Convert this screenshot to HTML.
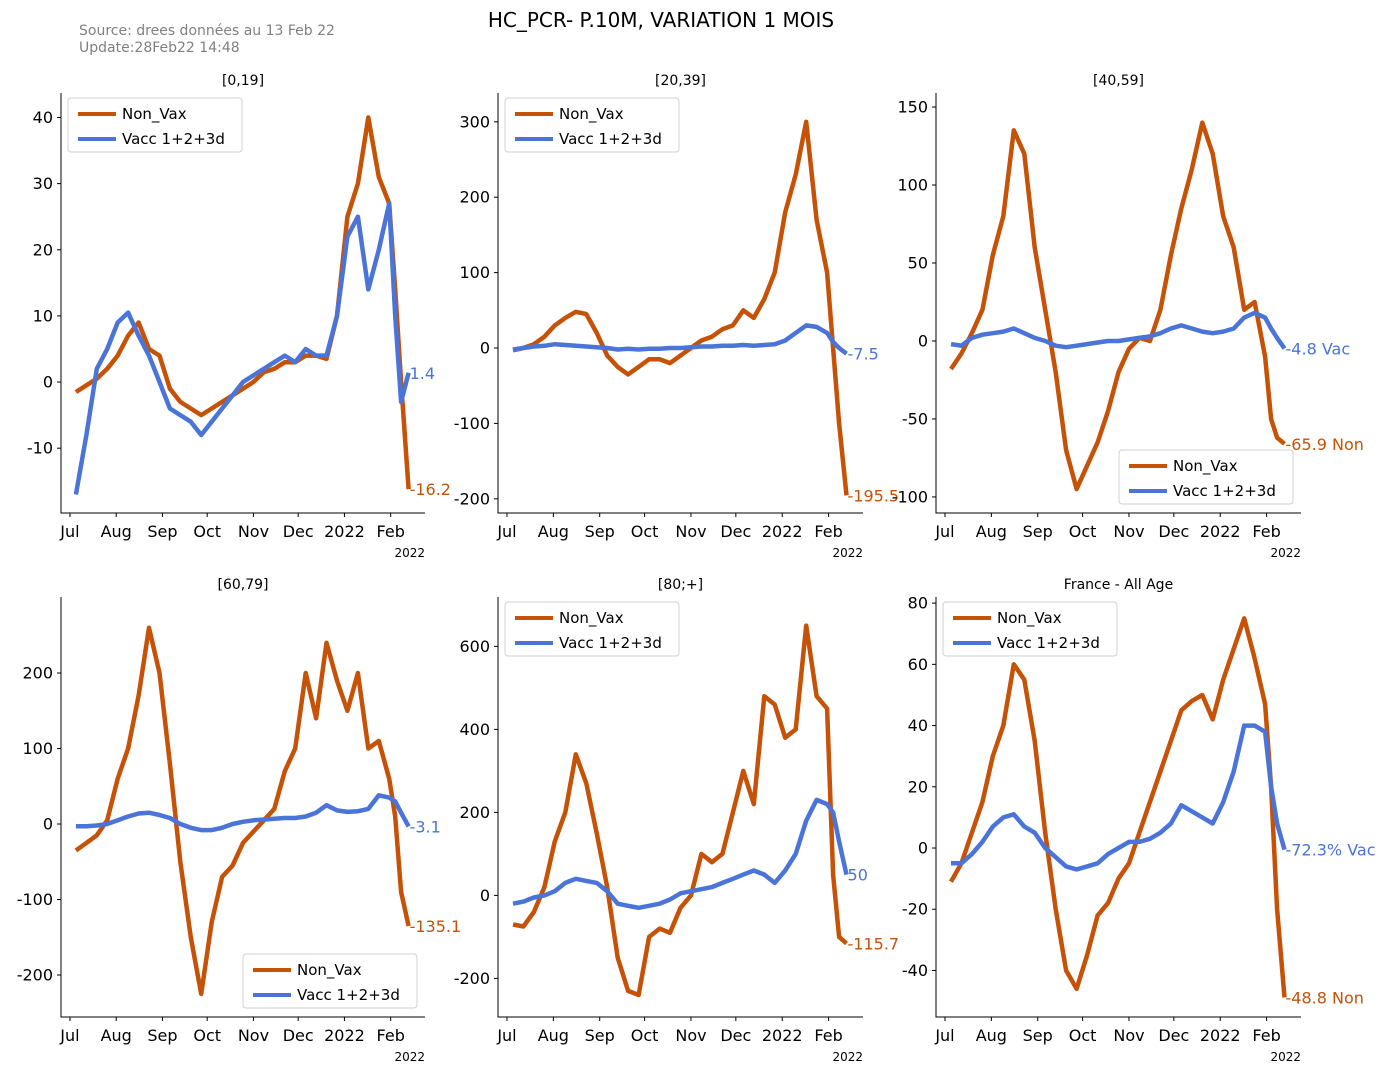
<!DOCTYPE html>
<html><head><meta charset="utf-8">
<style>
body{margin:0;background:#fff;}
svg{display:block;font-family:"DejaVu Sans","Liberation Sans",sans-serif;}
</style></head>
<body>
<svg id="chart" width="1395" height="1073" xmlns="http://www.w3.org/2000/svg">
<text x="661" y="27" text-anchor="middle" font-size="20" fill="#000">HC_PCR- P.10M, VARIATION 1 MOIS</text>
<text x="79" y="35" font-size="14" fill="#808080">Source: drees données au 13 Feb 22</text>
<text x="79" y="52" font-size="14" fill="#808080">Update:28Feb22 14:48</text>
</svg>
<script>
// shared day axis (days since 1 Jul 2021)
const days = [4,11,18,25,32,39,46,53,60,67,74,81,88,95,102,109,116,123,130,137,144,151,158,165,172,179,186,193,200,207,214,218,222,227];
const monthDays = [0,31,62,92,123,153,184,215];
const monthLabels = ["Jul","Aug","Sep","Oct","Nov","Dec","2022","Feb"];

const p1Non = [-1.5,-0.5,0.5,2,4,7,9,5,4,-1,-3,-4,-5,-4,-3,-2,-1,0,1.5,2,3,3,4,4,3.5,10,25,30,40,31,27,14,0,-16.2];
const p1Vac = [-17,-8,2,5,9,10.5,7,4,0,-4,-5,-6,-8,-6,-4,-2,0,1,2,3,4,3,5,4,4,10,22,25,14,20,27,10,-3,1.4];
const p2Non = [-3,0,5,15,30,40,48,45,20,-10,-25,-35,-25,-15,-15,-20,-10,0,10,15,25,30,50,40,65,100,180,230,300,170,100,0,-100,-195.5];
const p2Vac = [-2,0,2,3,5,4,3,2,1,0,-2,-1,-2,-1,-1,0,0,1,2,2,3,3,4,3,4,5,10,20,30,28,20,8,0,-7.5];
const p3Non = [-18,-8,5,20,55,80,135,120,60,20,-20,-70,-95,-80,-65,-45,-20,-5,2,0,20,55,85,110,140,120,80,60,20,25,-10,-50,-62,-65.9];
const p3Vac = [-2,-3,2,4,5,6,8,5,2,0,-3,-4,-3,-2,-1,0,0,1,2,3,5,8,10,8,6,5,6,8,15,18,15,8,2,-4.8];
const p4Non = [-35,-25,-15,5,60,100,170,260,200,80,-50,-150,-225,-130,-70,-55,-25,-10,5,20,70,100,200,140,240,190,150,200,100,110,60,10,-90,-135.1];
const p4Vac = [-3,-3,-2,0,5,10,14,15,12,8,0,-5,-8,-8,-5,0,3,5,6,7,8,8,10,15,25,18,16,17,20,38,35,30,15,-3.1];
const p5Non = [-70,-75,-40,20,130,200,340,270,150,20,-150,-230,-240,-100,-80,-90,-30,0,100,80,100,200,300,220,480,460,380,400,650,480,450,50,-100,-115.7];
const p5Vac = [-20,-15,-5,0,10,30,40,35,30,10,-20,-25,-30,-25,-20,-10,5,10,15,20,30,40,50,60,50,30,60,100,180,230,220,200,130,50];
const p6Non = [-11,-5,5,15,30,40,60,55,35,5,-20,-40,-46,-35,-22,-18,-10,-5,5,15,25,35,45,48,50,42,55,65,75,62,47,20,-20,-48.8];
const p6Vac = [-5,-5,-2,2,7,10,11,7,5,0,-3,-6,-7,-6,-5,-2,0,2,2,3,5,8,14,12,10,8,15,25,40,40,38,20,8,-0.5];

const ORANGE = "#c65208", BLUE = "#4a74d8";
const NS = "http://www.w3.org/2000/svg";
const svg = document.getElementById("chart");
function mk(tag, attrs, parent){const e=document.createElementNS(NS,tag);for(const k in attrs)e.setAttribute(k,attrs[k]);(parent||svg).appendChild(e);return e;}

const panels = [
 {id:"p1",title:"[0,19]",l:61,r:425,t:93,b:513,y:[-19.8,43.7],ticks:[-10,0,10,20,30,40],non:p1Non,vac:p1Vac,nl:"-16.2",vl:"1.4",leg:"ul"},
 {id:"p2",title:"[20,39]",l:498,r:863,t:93,b:513,y:[-218.8,338.2],ticks:[-200,-100,0,100,200,300],non:p2Non,vac:p2Vac,nl:"-195.5",vl:"-7.5",leg:"ul"},
 {id:"p3",title:"[40,59]",l:936,r:1301,t:93,b:513,y:[-110.3,159],ticks:[-100,-50,0,50,100,150],non:p3Non,vac:p3Vac,nl:"-65.9 Non",vl:"-4.8 Vac",leg:"lr"},
 {id:"p4",title:"[60,79]",l:61,r:425,t:597,b:1017,y:[-255.6,300.7],ticks:[-200,-100,0,100,200],non:p4Non,vac:p4Vac,nl:"-135.1",vl:"-3.1",leg:"lr"},
 {id:"p5",title:"[80;+]",l:498,r:863,t:597,b:1017,y:[-293,719],ticks:[-200,0,200,400,600],non:p5Non,vac:p5Vac,nl:"-115.7",vl:"50",leg:"ul"},
 {id:"p6",title:"France - All Age",l:936,r:1301,t:597,b:1017,y:[-55.2,82.0],ticks:[-40,-20,0,20,40,60,80],non:p6Non,vac:p6Vac,nl:"-48.8 Non",vl:"-72.3% Vac",leg:"ul"}
];
const XD=[-6,238];

panels.forEach(p=>{
  const g = mk("g",{});
  
  
  const xs=d=>p.l+(d-XD[0])/(XD[1]-XD[0])*(p.r-p.l);
  const ys=v=>p.b-(v-p.y[0])/(p.y[1]-p.y[0])*(p.b-p.t);
  const tt=mk("text",{x:(p.l+p.r)/2,y:p.t-8,"text-anchor":"middle","font-size":14,fill:"#000"},g);
  tt.textContent=p.title;
  
  
  const ax=mk("path",{d:`M${p.l},${p.t}V${p.b}H${p.r}`,stroke:"#000","stroke-width":1,fill:"none"},g);
  
  
  p.ticks.forEach(v=>{
    const y=ys(v);
    mk("line",{x1:p.l-4,x2:p.l,y1:y,y2:y,stroke:"#000"},g);
    const t=mk("text",{x:p.l-8,y:y+5.5,"text-anchor":"end","font-size":16,fill:"#000"},g);
    t.textContent=String(v);
    
    
  });
  monthDays.forEach((d,i)=>{
    const x=xs(d);
    mk("line",{x1:x,x2:x,y1:p.b,y2:p.b+4,stroke:"#000"},g);
    const t=mk("text",{x:x,y:p.b+24,"text-anchor":"middle","font-size":16,fill:"#000"},g);
    t.textContent=monthLabels[i];
    
    
  });
  const yr=mk("text",{x:p.r,y:p.b+44,"text-anchor":"end","font-size":12,fill:"#000"},g);
  yr.textContent="2022";
  
  
  [[p.non,ORANGE,"non-vax-line"],[p.vac,BLUE,"vacc-line"]].forEach(([arr,c,n])=>{
    const d=arr.map((v,i)=>(i?"L":"M")+xs(days[i]).toFixed(1)+","+ys(v).toFixed(1)).join("");
    const ln=mk("path",{d:d,stroke:c,"stroke-width":4.5,fill:"none","stroke-linejoin":"round"},g);
    
    
  });
  [[p.non,ORANGE,p.nl,"non-vax-end-label"],[p.vac,BLUE,p.vl,"vacc-end-label"]].forEach(([arr,c,txt,n])=>{
    const last=arr.length-1;
    const t=mk("text",{x:xs(days[last])+1,y:ys(arr[last])+6,"font-size":16,fill:c},g);
    t.textContent=txt;
    
    
  });
  const lw=174,lh=54;
  const lx=p.leg==="ul"?p.l+7:p.r-8-lw;
  const ly=p.leg==="ul"?p.t+5:p.b-9-lh;
  const lg=mk("g",{},g);
  
  
  mk("rect",{x:lx,y:ly,width:lw,height:lh,rx:3,fill:"#fff","fill-opacity":0.8,stroke:"#d0d0d0"},lg);
  [["Non_Vax",ORANGE],["Vacc 1+2+3d",BLUE]].forEach(([lab,c],i)=>{
    const yy=ly+16+i*25;
    mk("line",{x1:lx+10,x2:lx+48,y1:yy,y2:yy,stroke:c,"stroke-width":4},lg);
    const t=mk("text",{x:lx+54,y:yy+5,"font-size":15,fill:"#000"},lg);
    t.textContent=lab;
    
    
  });
});
</script>
</body></html>
